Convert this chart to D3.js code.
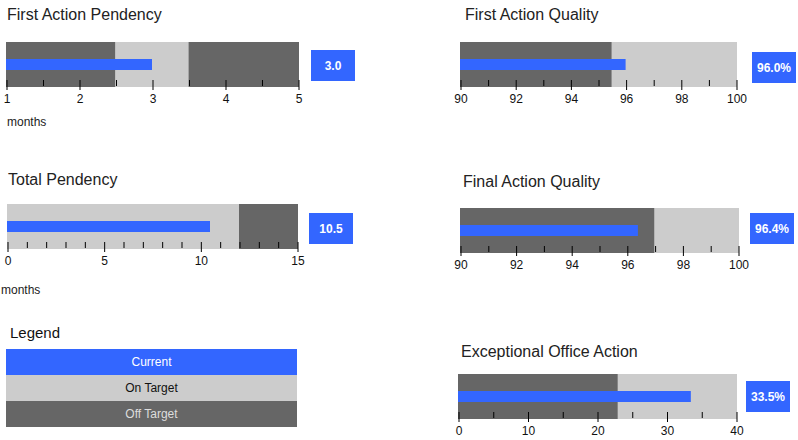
<!DOCTYPE html>
<html>
<head>
<meta charset="utf-8">
<script src="https://cdn.jsdelivr.net/npm/d3@7"></script>
<style>
  html, body { margin: 0; padding: 0; background: #fff; }
  svg { display: block; font-family: "Liberation Sans", Arial, sans-serif; }
</style>
</head>
<body>
<svg id="chart" width="798" height="440"></svg>
<script>
// ---- data ----
const titles = ["First Action Pendency", "First Action Quality", "Total Pendency", "Final Action Quality", "Exceptional Office Action"];
const domainMin = [1, 90, 0, 90, 0];
const domainMax = [5, 100, 15, 100, 40];
const currentValues = [3.0, 96.0, 10.5, 96.4, 33.5];
const valueLabels = ["3.0", "96.0%", "10.5", "96.4%", "33.5%"];
const bandBreaks = [[1, 2.5, 3.5, 5], [90, 95.5, 100], [0, 12, 15], [90, 97, 100], [0, 23, 40]];
const bandStatus = [["off", "on", "off"], ["off", "on"], ["on", "off"], ["off", "on"], ["off", "on"]];
const majorTicks = [[1, 2, 3, 4, 5], [90, 92, 94, 96, 98, 100], [0, 5, 10, 15], [90, 92, 94, 96, 98, 100], [0, 10, 20, 30, 40]];
const minorTicks = [
  [1.5, 2.5, 3.5, 4.5],
  [91, 93, 95, 97, 99],
  [1, 2, 3, 4, 6, 7, 8, 9, 11, 12, 13, 14],
  [91, 93, 95, 97, 99],
  [5, 15, 25, 35]
];
const units = ["months", "", "months", "", ""];
const legendTitle = "Legend";
const legendItems = ["Current", "On Target", "Off Target"];

// ---- layout / style ----
const colors = { current: "#3366ff", on: "#cccccc", off: "#666666" };
const legendText = ["#ffffff", "#111111", "#dddddd"];
const legendFill = [colors.current, colors.on, colors.off];
const layout = [
  { x0: 6.5, x1: 298.5, top: 42, tx: 7, ty: 20, bx: 311, by: 50, ux: 7, uy: 126 },
  { x0: 460.5, x1: 736.5, top: 42, tx: 465, ty: 19.5, bx: 752, by: 52, ux: 0, uy: 0 },
  { x0: 7.5, x1: 297.5, top: 204, tx: 8, ty: 185, bx: 309, by: 213, ux: 1, uy: 294 },
  { x0: 460.5, x1: 738.5, top: 208, tx: 463, ty: 186.5, bx: 750, by: 213, ux: 0, uy: 0 },
  { x0: 458.5, x1: 736.5, top: 374, tx: 461, ty: 357, bx: 746, by: 381, ux: 0, uy: 0 }
];
const barH = 45, curOff = 17, curH = 11, boxW = 44, boxH = 31;

const svg = d3.select("#chart");

titles.forEach((title, i) => {
  const L = layout[i];
  const x = d3.scaleLinear().domain([domainMin[i], domainMax[i]]).range([L.x0, L.x1]);
  const g = svg.append("g");

  g.append("text").attr("x", L.tx).attr("y", L.ty)
    .attr("font-size", 16).attr("fill", "#222").text(title);

  const br = bandBreaks[i];
  const bands = d3.range(br.length - 1).map(k => ({ a: br[k], b: br[k + 1], s: bandStatus[i][k] }));
  g.selectAll("rect.band").data(bands).join("rect")
    .attr("class", "band")
    .attr("x", d => x(d.a) - 0.5)
    .attr("width", d => x(d.b) - x(d.a) + (d.b === domainMax[i] ? 1 : 0))
    .attr("y", L.top).attr("height", barH)
    .attr("fill", d => colors[d.s]);

  g.append("rect")
    .attr("x", x(domainMin[i]) - 0.5)
    .attr("width", x(currentValues[i]) - x(domainMin[i]))
    .attr("y", L.top + curOff).attr("height", curH)
    .attr("fill", colors.current);

  const axisY = L.top + 38;
  const major = d3.axisBottom(x).tickValues(majorTicks[i]).tickSize(10).tickPadding(4)
    .tickFormat(d3.format("d"));
  const ga = g.append("g").attr("transform", `translate(0,${axisY})`).call(major);
  ga.select(".domain").remove();
  ga.selectAll("line").attr("stroke", "#000");
  ga.selectAll("text").attr("font-size", 12).attr("fill", "#111")
    .attr("font-family", "'Liberation Sans', Arial, sans-serif");

  const minor = d3.axisBottom(x).tickValues(minorTicks[i]).tickSize(6).tickFormat("");
  const gm = g.append("g").attr("transform", `translate(0,${axisY})`).call(minor);
  gm.select(".domain").remove();
  gm.selectAll("line").attr("stroke", "#000");

  g.append("rect").attr("x", L.bx).attr("y", L.by).attr("width", boxW).attr("height", boxH)
    .attr("fill", colors.current);
  g.append("text").attr("x", L.bx + boxW / 2).attr("y", L.by + boxH / 2 + 4.5)
    .attr("text-anchor", "middle").attr("font-size", 12).attr("font-weight", "bold")
    .attr("fill", "#fff").text(valueLabels[i]);

  if (units[i]) {
    g.append("text").attr("x", L.ux).attr("y", L.uy).attr("font-size", 12)
      .attr("fill", "#222").text(units[i]);
  }
});

// ---- legend ----
const lg = svg.append("g");
lg.append("text").attr("x", 10).attr("y", 337.5).attr("font-size", 15).attr("fill", "#111").text(legendTitle);
const ly = d3.scaleBand().domain(legendItems).range([349, 427]);
lg.selectAll("rect.leg").data(legendItems).join("rect")
  .attr("class", "leg")
  .attr("x", 6).attr("width", 291)
  .attr("y", d => ly(d)).attr("height", ly.bandwidth())
  .attr("fill", (d, k) => legendFill[k]);
lg.selectAll("text.leg").data(legendItems).join("text")
  .attr("class", "leg")
  .attr("x", 151.5).attr("y", d => ly(d) + ly.bandwidth() / 2 + 4)
  .attr("text-anchor", "middle").attr("font-size", 12)
  .attr("fill", (d, k) => legendText[k]).text(d => d);
</script>
</body>
</html>
